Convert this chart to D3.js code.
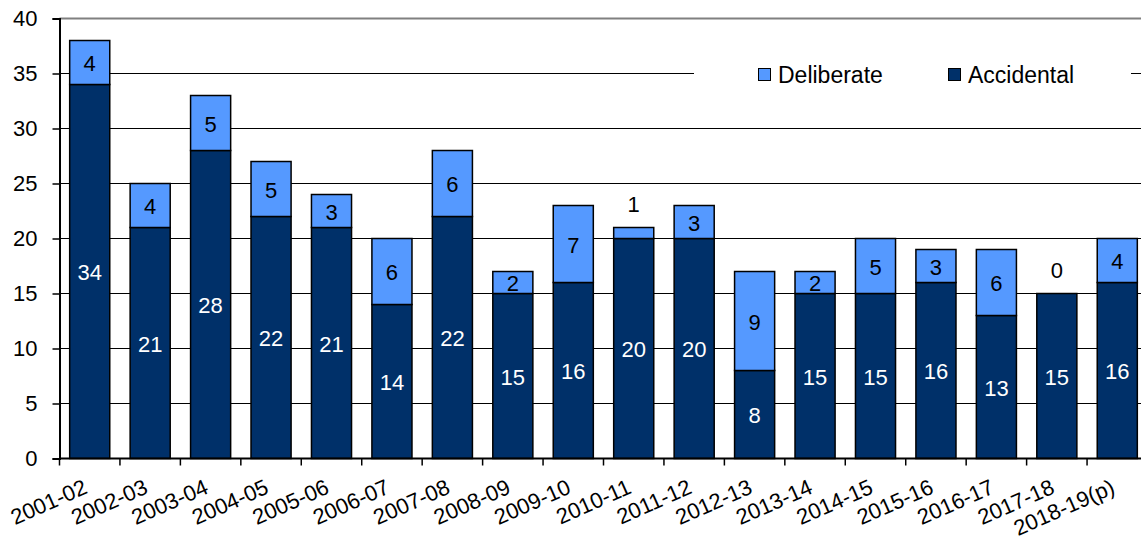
<!DOCTYPE html>
<html>
<head>
<meta charset="utf-8">
<script src="https://cdn.jsdelivr.net/npm/d3@7"></script>
<style>
  html, body { margin: 0; padding: 0; background: #fff; }
  svg { display: block; font-family: "Liberation Sans", Arial, sans-serif; }
</style>
</head>
<body>
<svg id="chart" width="1141" height="541"></svg>
<script>
// Financial years and counts by incident type
const years = ["2001-02","2002-03","2003-04","2004-05","2005-06","2006-07","2007-08","2008-09","2009-10",
  "2010-11","2011-12","2012-13","2013-14","2014-15","2015-16","2016-17","2017-18","2018-19(p)"];
const accidental = [34,21,28,22,21,14,22,15,16,20,20,8,15,15,16,13,15,16];
const deliberate = [4,4,5,5,3,6,6,2,7,1,3,9,2,5,3,6,0,4];
const yTicks = [0,5,10,15,20,25,30,35,40];
const seriesNames = ["Deliberate","Accidental"];
const seriesColors = ["#5599FF","#003069"];

const svg = d3.select("#chart");
const plotLeft = 59.5, plotRight = 1147.5, plotTop = 18.5, plotBottom = 458.5;
const fontSize = 22;

const x = d3.scaleBand().domain(years).range([plotLeft, plotRight]).paddingInner(0.337).paddingOuter(0.1685);
const y = d3.scaleLinear().domain([0, 40]).range([plotBottom, plotTop]);

// Horizontal gridlines
svg.append("g").selectAll("line").data(yTicks.filter(d => d > 0 && d < 40)).join("line")
  .attr("x1", plotLeft).attr("x2", 1141).attr("y1", d => y(d)).attr("y2", d => y(d))
  .attr("stroke", "#000").attr("stroke-width", 1.2);
// Plot-area top border
svg.append("line").attr("x1", plotLeft).attr("x2", 1141).attr("y1", y(40)).attr("y2", y(40))
  .attr("stroke", "#808080").attr("stroke-width", 2);

// Legend background (hides gridline behind it)
const legend = svg.append("g");
legend.append("rect").attr("x", 694).attr("y", 52).attr("width", 437).attr("height", 44).attr("fill", "#fff");
const legendX = [758, 948];
seriesNames.forEach((name, i) => {
  legend.append("rect").attr("x", legendX[i] + 0.5).attr("y", 68.5).attr("width", 12).attr("height", 12)
    .attr("fill", seriesColors[i]).attr("stroke", "#000").attr("stroke-width", 1);
  legend.append("text").attr("x", legendX[i] + 20).attr("y", 83).attr("font-size", 23)
    .attr("fill", "#000").text(name);
});

// Stacked bars
const stack = d3.stack().keys(["accidental","deliberate"])(years.map((yr, i) => ({
  year: yr, accidental: accidental[i], deliberate: deliberate[i]
})));
const colorOf = { accidental: seriesColors[1], deliberate: seriesColors[0] };

const bars = svg.append("g");
stack.forEach(layer => {
  bars.selectAll(null).data(layer.filter(d => d[1] - d[0] > 0)).join("rect")
    .attr("x", d => x(d.data.year))
    .attr("width", x.bandwidth())
    .attr("y", d => y(d[1]))
    .attr("height", d => y(d[0]) - y(d[1]))
    .attr("fill", colorOf[layer.key])
    .attr("stroke", "#000").attr("stroke-width", 1.5);
});

// Value labels
const labels = svg.append("g").attr("font-size", fontSize).attr("text-anchor", "middle");
stack[0].forEach(d => {
  labels.append("text").attr("x", x(d.data.year) + x.bandwidth() / 2)
    .attr("y", y((d[0] + d[1]) / 2) + 8.5).attr("fill", "#fff").text(d.data.accidental);
});
stack[1].forEach(d => {
  const v = d.data.deliberate;
  const cy = v < 2 ? y(d[1]) - 16 : y((d[0] + d[1]) / 2) + 8.5;
  labels.append("text").attr("x", x(d.data.year) + x.bandwidth() / 2)
    .attr("y", cy).attr("fill", "#000").text(v);
});

// Y axis
const yAxis = svg.append("g").attr("transform", `translate(${plotLeft},0)`)
  .call(d3.axisLeft(y).tickValues(yTicks).tickSize(7).tickPadding(15));
yAxis.select(".domain").attr("stroke", "#000").attr("stroke-width", 2);
yAxis.selectAll(".tick line").attr("stroke", "#000").attr("stroke-width", 1.5);
yAxis.selectAll(".tick text").attr("font-size", fontSize).attr("fill", "#000")
  .attr("font-family", "Liberation Sans, Arial, sans-serif");

// X axis: ticks at category boundaries
const xAxisG = svg.append("g");
xAxisG.append("line").attr("x1", plotLeft).attr("x2", 1141).attr("y1", plotBottom).attr("y2", plotBottom)
  .attr("stroke", "#000").attr("stroke-width", 2);
const step = x.step();
const boundaries = years.map(yr => x(yr) - x.paddingInner() * step / 2);
xAxisG.selectAll("line.tk").data(boundaries).join("line").attr("class", "tk")
  .attr("x1", d => d).attr("x2", d => d).attr("y1", plotBottom).attr("y2", plotBottom + 7)
  .attr("stroke", "#000").attr("stroke-width", 1.5);
xAxisG.selectAll("text").data(years).join("text")
  .attr("text-anchor", "end").attr("font-size", fontSize).attr("fill", "#000")
  .attr("transform", d => `translate(${x(d) + x.bandwidth() / 2 - 1},${plotBottom + 34}) rotate(-24)`)
  .text(d => d);
</script>
</body>
</html>
